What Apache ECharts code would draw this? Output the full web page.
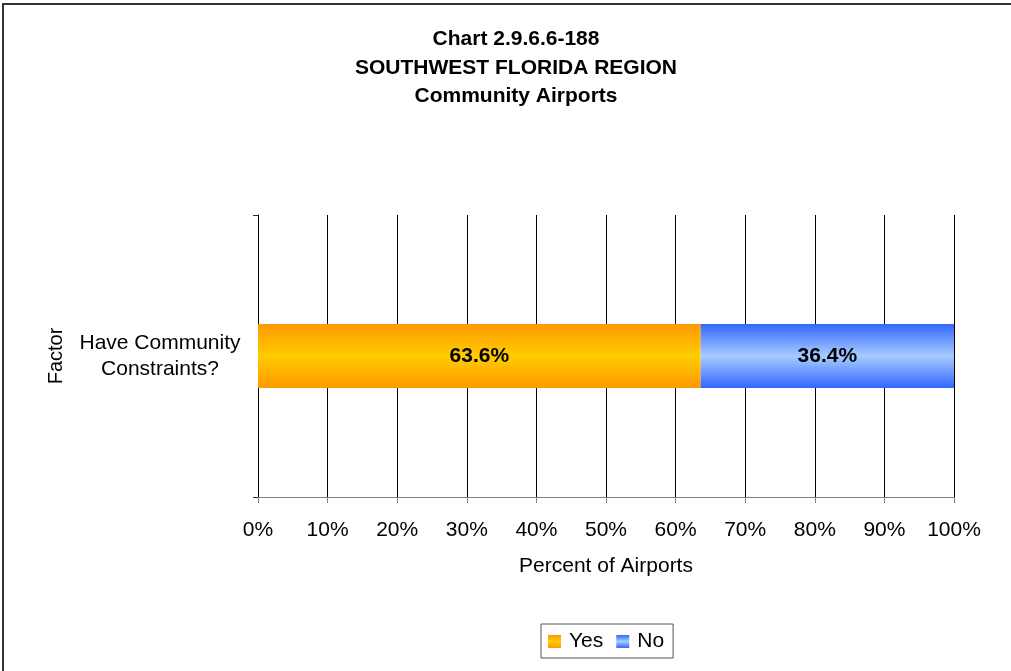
<!DOCTYPE html>
<html>
<head>
<meta charset="utf-8">
<script src="https://cdn.jsdelivr.net/npm/echarts@6/dist/echarts.min.js"></script>
<style>
html,body{margin:0;padding:0;background:#fff;}
#c{width:1011px;height:671px;}
</style>
</head>
<body>
<div id="c"></div>
<script>
var categories = ['Have Community\nConstraints?'];
var yesValues = [63.6];
var noValues = [36.4];
var seriesNames = ['Yes', 'No'];
var xTicks = [0, 10, 20, 30, 40, 50, 60, 70, 80, 90, 100];

var FONT = '"Liberation Sans", Arial, Helvetica, sans-serif';
var chart = echarts.init(document.getElementById('c'), null, {renderer: 'canvas'});

function grad(edge, mid) {
  return new echarts.graphic.LinearGradient(0, 0, 0, 1, [
    {offset: 0, color: edge},
    {offset: 0.5, color: mid},
    {offset: 1, color: edge}
  ]);
}

var option = {
  backgroundColor: '#fff',
  animation: false,
  graphic: [{
    type: 'rect',
    shape: {x: 3, y: 4, width: 1100, height: 800},
    style: {fill: 'none', stroke: '#333', lineWidth: 2},
    z: 100
  }],
  title: {
    text: 'Chart 2.9.6.6-188\nSOUTHWEST FLORIDA REGION\nCommunity Airports',
    left: 511,
    textAlign: 'center',
    top: 20,
    textStyle: {fontFamily: FONT, fontSize: 21, fontWeight: 'bold', color: '#000', lineHeight: 28.5}
  },
  legend: {
    data: seriesNames,
    left: 541,
    top: 624,
    padding: [7, 9, 6, 7],
    itemGap: 13,
    itemWidth: 13,
    itemHeight: 13,
    borderColor: '#555',
    borderWidth: 1,
    icon: 'rect',
    textStyle: {fontFamily: FONT, fontSize: 21, color: '#000', padding: [0, 0, 0, 3]}
  },
  grid: {left: 258, right: 57, top: 215, bottom: 174, containLabel: false},
  xAxis: {
    type: 'value',
    min: 0,
    max: 100,
    interval: 10,
    name: 'Percent of Airports',
    nameLocation: 'middle',
    nameGap: 59,
    nameTextStyle: {fontFamily: FONT, fontSize: 21, color: '#000'},
    axisLine: {show: true, lineStyle: {color: '#808080', width: 1}},
    axisTick: {show: true, length: 6, lineStyle: {color: '#808080'}},
    axisLabel: {
      fontFamily: FONT, fontSize: 21, color: '#000', margin: 23,
      formatter: function (v) { return v + '%'; }
    },
    splitLine: {show: true, lineStyle: {color: '#000', width: 1}}
  },
  yAxis: {
    type: 'category',
    data: categories,
    name: 'Factor',
    nameLocation: 'middle',
    nameRotate: 90,
    nameGap: 192,
    nameTextStyle: {fontFamily: FONT, fontSize: 20, color: '#000'},
    axisLine: {show: true, lineStyle: {color: '#000', width: 1}},
    axisTick: {show: true, length: 5, lineStyle: {color: '#333'}},
    axisLabel: {
      fontFamily: FONT, fontSize: 21, color: '#000', margin: 98,
      align: 'center', lineHeight: 26
    }
  },
  series: [
    {
      name: seriesNames[0],
      type: 'bar',
      stack: 'total',
      barWidth: 64,
      data: yesValues,
      itemStyle: {color: grad('#FF9900', '#FFCC00')},
      label: {
        show: true, position: 'inside',
        fontFamily: FONT, fontSize: 21, fontWeight: 'bold', color: '#000',
        formatter: function (p) { return p.value.toFixed(1) + '%'; }
      }
    },
    {
      name: seriesNames[1],
      type: 'bar',
      stack: 'total',
      barWidth: 64,
      data: noValues,
      itemStyle: {color: grad('#3366FF', '#A6CCFF')},
      label: {
        show: true, position: 'inside',
        fontFamily: FONT, fontSize: 21, fontWeight: 'bold', color: '#000',
        formatter: function (p) { return p.value.toFixed(1) + '%'; }
      }
    }
  ]
};
chart.setOption(option);
</script>
</body>
</html>
